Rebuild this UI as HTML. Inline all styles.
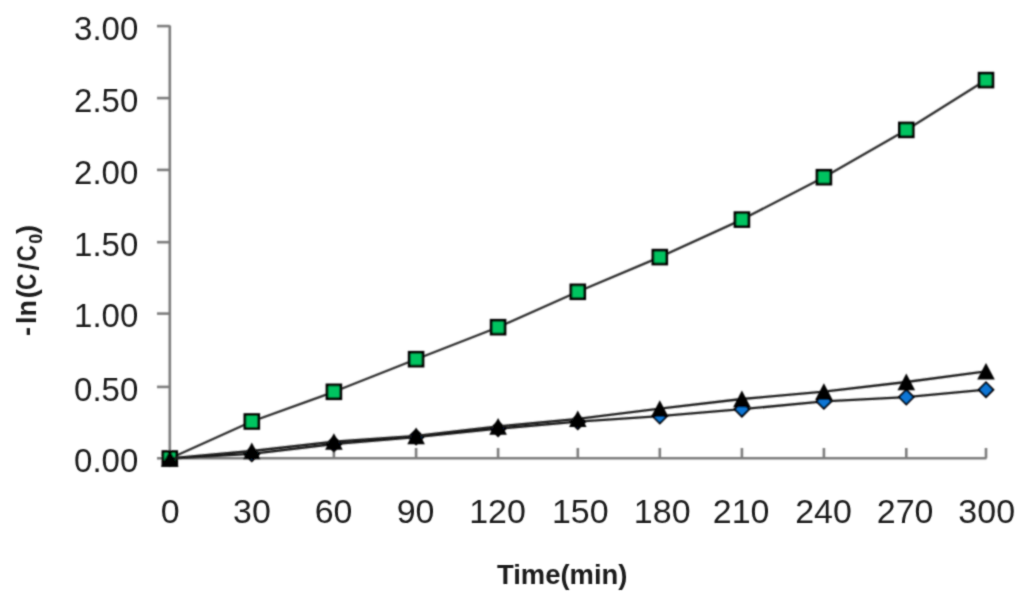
<!DOCTYPE html>
<html><head><meta charset="utf-8"><style>
html,body{margin:0;padding:0;background:#fff;}
svg{display:block;}
.t{font-family:"Liberation Sans",sans-serif;font-size:33px;fill:#1c1c1c;}
.b{font-family:"Liberation Sans",sans-serif;font-size:27px;font-weight:bold;fill:#1a1a1a;}
</style></head><body>
<svg width="1024" height="605" viewBox="0 0 1024 605">
<defs>
<filter id="fg" filterUnits="userSpaceOnUse" x="0" y="0" width="1024" height="605"><feConvolveMatrix order="5" kernelMatrix="0.00023 0.00332 0.00809 0.00332 0.00023 0.00332 0.04785 0.11640 0.04785 0.00332 0.00809 0.11640 0.28313 0.11640 0.00809 0.00332 0.04785 0.11640 0.04785 0.00332 0.00023 0.00332 0.00809 0.00332 0.00023" divisor="1" edgeMode="none"/></filter>
<filter id="ft" filterUnits="userSpaceOnUse" x="0" y="0" width="1024" height="605"><feConvolveMatrix order="5" kernelMatrix="0.00001 0.00042 0.00170 0.00042 0.00001 0.00042 0.02740 0.10988 0.02740 0.00042 0.00170 0.10988 0.44065 0.10988 0.00170 0.00042 0.02740 0.10988 0.02740 0.00042 0.00001 0.00042 0.00170 0.00042 0.00001" divisor="1" edgeMode="none"/></filter>
</defs>
<rect width="1024" height="605" fill="#fff"/>
<g filter="url(#fg)">
<path d="M169.8 25.6V458.3H986.5" fill="none" stroke="#7c7c7c" stroke-width="2.6"/>
<path d="M157 26.1H169.8" stroke="#7c7c7c" stroke-width="2.6"/>
<path d="M157 98.1H169.8" stroke="#7c7c7c" stroke-width="2.6"/>
<path d="M157 169.9H169.8" stroke="#7c7c7c" stroke-width="2.6"/>
<path d="M157 242.2H169.8" stroke="#7c7c7c" stroke-width="2.6"/>
<path d="M157 313.6H169.8" stroke="#7c7c7c" stroke-width="2.6"/>
<path d="M157 386.9H169.8" stroke="#7c7c7c" stroke-width="2.6"/>
<path d="M157 458.3H169.8" stroke="#7c7c7c" stroke-width="2.6"/>
<path d="M251.80 448V458.3" stroke="#7c7c7c" stroke-width="2.6"/>
<path d="M333.90 448V458.3" stroke="#7c7c7c" stroke-width="2.6"/>
<path d="M416.10 448V458.3" stroke="#7c7c7c" stroke-width="2.6"/>
<path d="M498.10 448V458.3" stroke="#7c7c7c" stroke-width="2.6"/>
<path d="M577.80 448V458.3" stroke="#7c7c7c" stroke-width="2.6"/>
<path d="M659.80 448V458.3" stroke="#7c7c7c" stroke-width="2.6"/>
<path d="M741.90 448V458.3" stroke="#7c7c7c" stroke-width="2.6"/>
<path d="M823.90 448V458.3" stroke="#7c7c7c" stroke-width="2.6"/>
<path d="M906.30 448V458.3" stroke="#7c7c7c" stroke-width="2.6"/>
<path d="M986.00 448V458.3" stroke="#7c7c7c" stroke-width="2.6"/>
<path d="M169.80 458.5 L251.80 453.9 L333.90 444.0 L416.10 437.0 L498.10 428.7 L577.80 421.7 L659.80 416.1 L741.90 409.2 L823.90 401.4 L906.30 397.1 L986.00 389.7" fill="none" stroke="#1a1a1a" stroke-width="2.3" stroke-linejoin="round"/>
<path d="M169.80 451.20L177.10 458.50L169.80 465.80L162.50 458.50Z" fill="#0876d6" stroke="#000" stroke-width="2.0" stroke-linejoin="miter"/>
<path d="M251.80 446.60L259.10 453.90L251.80 461.20L244.50 453.90Z" fill="#0876d6" stroke="#000" stroke-width="2.0" stroke-linejoin="miter"/>
<path d="M333.90 436.70L341.20 444.00L333.90 451.30L326.60 444.00Z" fill="#0876d6" stroke="#000" stroke-width="2.0" stroke-linejoin="miter"/>
<path d="M416.10 429.70L423.40 437.00L416.10 444.30L408.80 437.00Z" fill="#0876d6" stroke="#000" stroke-width="2.0" stroke-linejoin="miter"/>
<path d="M498.10 421.40L505.40 428.70L498.10 436.00L490.80 428.70Z" fill="#0876d6" stroke="#000" stroke-width="2.0" stroke-linejoin="miter"/>
<path d="M577.80 414.40L585.10 421.70L577.80 429.00L570.50 421.70Z" fill="#0876d6" stroke="#000" stroke-width="2.0" stroke-linejoin="miter"/>
<path d="M659.80 408.80L667.10 416.10L659.80 423.40L652.50 416.10Z" fill="#0876d6" stroke="#000" stroke-width="2.0" stroke-linejoin="miter"/>
<path d="M741.90 401.90L749.20 409.20L741.90 416.50L734.60 409.20Z" fill="#0876d6" stroke="#000" stroke-width="2.0" stroke-linejoin="miter"/>
<path d="M823.90 394.10L831.20 401.40L823.90 408.70L816.60 401.40Z" fill="#0876d6" stroke="#000" stroke-width="2.0" stroke-linejoin="miter"/>
<path d="M906.30 389.80L913.60 397.10L906.30 404.40L899.00 397.10Z" fill="#0876d6" stroke="#000" stroke-width="2.0" stroke-linejoin="miter"/>
<path d="M986.00 382.40L993.30 389.70L986.00 397.00L978.70 389.70Z" fill="#0876d6" stroke="#000" stroke-width="2.0" stroke-linejoin="miter"/>
<path d="M169.80 458.5 L251.80 421.5 L333.90 391.8 L416.10 359.2 L498.10 327.2 L577.80 291.8 L659.80 257.1 L741.90 219.6 L823.90 177.2 L906.30 129.9 L986.00 80.1" fill="none" stroke="#2a2a2a" stroke-width="2.3" stroke-linejoin="round"/>
<rect x="162.90" y="451.60" width="13.8" height="13.8" fill="#00c460" stroke="#000" stroke-width="2.8"/>
<rect x="244.90" y="414.60" width="13.8" height="13.8" fill="#00c460" stroke="#000" stroke-width="2.8"/>
<rect x="327.00" y="384.90" width="13.8" height="13.8" fill="#00c460" stroke="#000" stroke-width="2.8"/>
<rect x="409.20" y="352.30" width="13.8" height="13.8" fill="#00c460" stroke="#000" stroke-width="2.8"/>
<rect x="491.20" y="320.30" width="13.8" height="13.8" fill="#00c460" stroke="#000" stroke-width="2.8"/>
<rect x="570.90" y="284.90" width="13.8" height="13.8" fill="#00c460" stroke="#000" stroke-width="2.8"/>
<rect x="652.90" y="250.20" width="13.8" height="13.8" fill="#00c460" stroke="#000" stroke-width="2.8"/>
<rect x="735.00" y="212.70" width="13.8" height="13.8" fill="#00c460" stroke="#000" stroke-width="2.8"/>
<rect x="817.00" y="170.30" width="13.8" height="13.8" fill="#00c460" stroke="#000" stroke-width="2.8"/>
<rect x="899.40" y="123.00" width="13.8" height="13.8" fill="#00c460" stroke="#000" stroke-width="2.8"/>
<rect x="979.10" y="73.20" width="13.8" height="13.8" fill="#00c460" stroke="#000" stroke-width="2.8"/>
<path d="M169.80 458.5 L251.80 451.0 L333.90 441.6 L416.10 436.0 L498.10 426.5 L577.80 418.8 L659.80 408.7 L741.90 399.0 L823.90 391.7 L906.30 382.0 L986.00 371.4" fill="none" stroke="#1a1a1a" stroke-width="2.3" stroke-linejoin="round"/>
<path d="M169.80 450.10L178.60 466.70L161.00 466.70Z" fill="#000"/>
<path d="M251.80 442.60L260.60 459.20L243.00 459.20Z" fill="#000"/>
<path d="M333.90 433.20L342.70 449.80L325.10 449.80Z" fill="#000"/>
<path d="M416.10 427.60L424.90 444.20L407.30 444.20Z" fill="#000"/>
<path d="M498.10 418.10L506.90 434.70L489.30 434.70Z" fill="#000"/>
<path d="M577.80 410.40L586.60 427.00L569.00 427.00Z" fill="#000"/>
<path d="M659.80 400.30L668.60 416.90L651.00 416.90Z" fill="#000"/>
<path d="M741.90 390.60L750.70 407.20L733.10 407.20Z" fill="#000"/>
<path d="M823.90 383.30L832.70 399.90L815.10 399.90Z" fill="#000"/>
<path d="M906.30 373.60L915.10 390.20L897.50 390.20Z" fill="#000"/>
<path d="M986.00 363.00L994.80 379.60L977.20 379.60Z" fill="#000"/>
</g>
<g filter="url(#ft)">
<text x="138.3" y="39.8" text-anchor="end" class="t">3.00</text>
<text x="138.3" y="111.8" text-anchor="end" class="t">2.50</text>
<text x="138.3" y="183.6" text-anchor="end" class="t">2.00</text>
<text x="138.3" y="255.9" text-anchor="end" class="t">1.50</text>
<text x="138.3" y="327.3" text-anchor="end" class="t">1.00</text>
<text x="138.3" y="400.6" text-anchor="end" class="t">0.50</text>
<text x="138.3" y="472.0" text-anchor="end" class="t">0.00</text>
<text transform="translate(170.2 523.2) scale(1.03 1)" text-anchor="middle" class="t">0</text>
<text transform="translate(251.9 523.2) scale(1.03 1)" text-anchor="middle" class="t">30</text>
<text transform="translate(333.6 523.2) scale(1.03 1)" text-anchor="middle" class="t">60</text>
<text transform="translate(415.6 523.2) scale(1.03 1)" text-anchor="middle" class="t">90</text>
<text transform="translate(497.5 523.2) scale(1.03 1)" text-anchor="middle" class="t">120</text>
<text transform="translate(580.3 523.2) scale(1.03 1)" text-anchor="middle" class="t">150</text>
<text transform="translate(662.2 523.2) scale(1.03 1)" text-anchor="middle" class="t">180</text>
<text transform="translate(741.1 523.2) scale(1.03 1)" text-anchor="middle" class="t">210</text>
<text transform="translate(823.5 523.2) scale(1.03 1)" text-anchor="middle" class="t">240</text>
<text transform="translate(905.1 523.2) scale(1.03 1)" text-anchor="middle" class="t">270</text>
<text transform="translate(986.7 523.2) scale(1.03 1)" text-anchor="middle" class="t">300</text>
<text transform="translate(562.2 583.5) scale(1.015 1)" text-anchor="middle" class="b">Time(min)</text>
<text transform="translate(36 331.5) rotate(-90) scale(1.0 1)" text-anchor="middle" class="b" style="font-size:27px">-</text>
<text transform="translate(36 320.3) rotate(-90) scale(1.0 1)" text-anchor="middle" class="b" style="font-size:27px">l</text>
<text transform="translate(36 308.2) rotate(-90) scale(1.0 1)" text-anchor="middle" class="b" style="font-size:27px">n</text>
<text transform="translate(36 293.7) rotate(-90) scale(1.0 1)" text-anchor="middle" class="b" style="font-size:27px">(</text>
<text transform="translate(36 281.8) rotate(-90) scale(0.84 1)" text-anchor="middle" class="b" style="font-size:27px">C</text>
<text transform="translate(37.5 266.7) rotate(-90) scale(1.0 1)" text-anchor="middle" class="b" style="font-size:27px">/</text>
<text transform="translate(36 253.2) rotate(-90) scale(0.84 1)" text-anchor="middle" class="b" style="font-size:27px">C</text>
<text transform="translate(41.8 238.7) rotate(-90) scale(1.0 1)" text-anchor="middle" class="b" style="font-size:18px">0</text>
<text transform="translate(36 229.5) rotate(-90) scale(1.0 1)" text-anchor="middle" class="b" style="font-size:27px">)</text>
</g>
</svg>
</body></html>
